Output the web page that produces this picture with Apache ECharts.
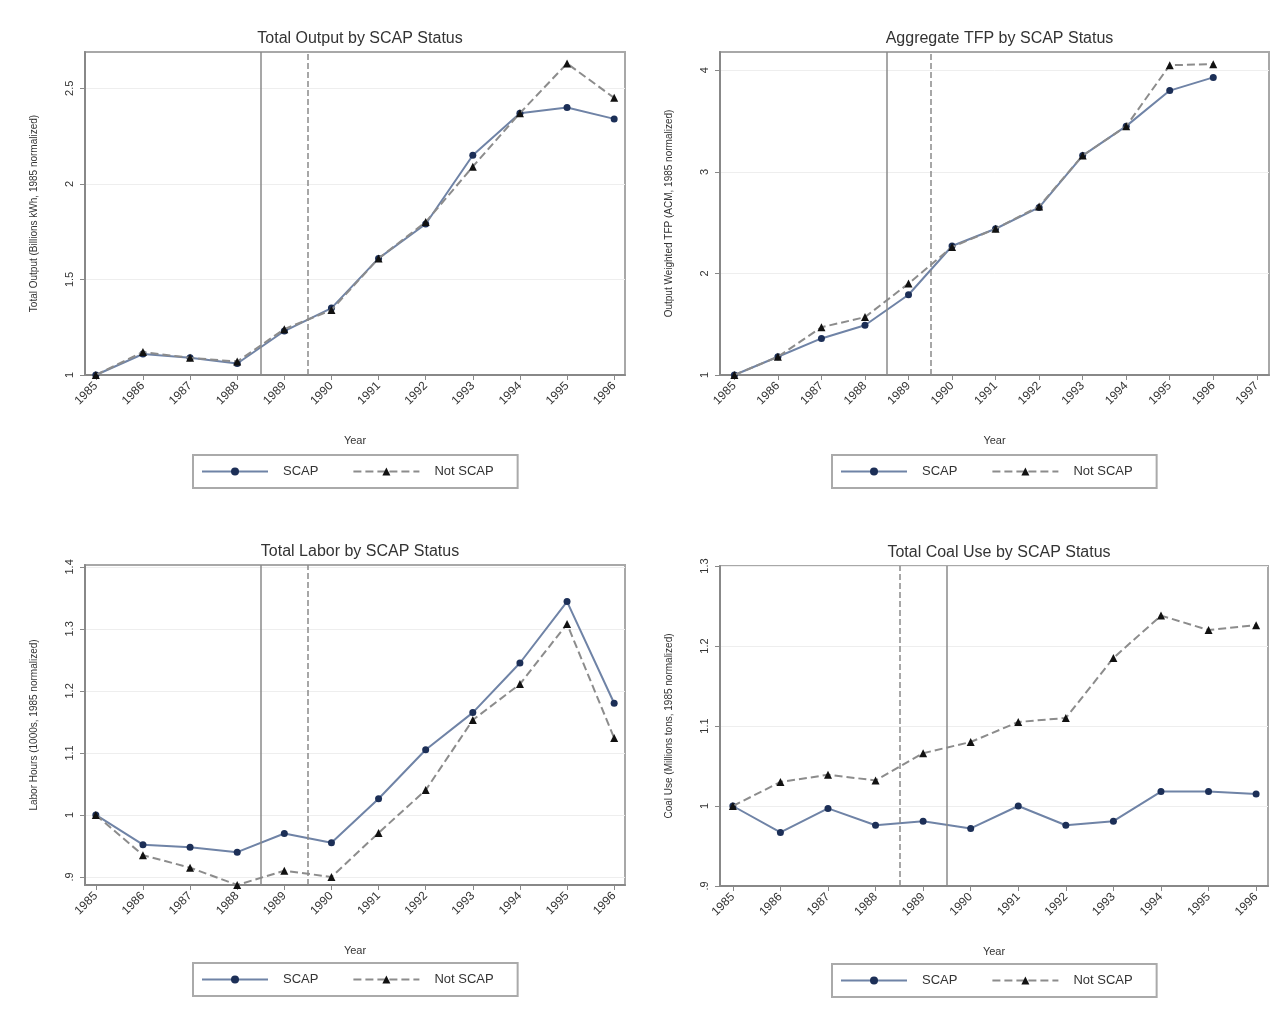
<!DOCTYPE html>
<html><head><meta charset="utf-8">
<script src="https://cdn.jsdelivr.net/npm/echarts@6/dist/echarts.min.js"></script>
<style>html,body{margin:0;padding:0;background:#fff}#c{width:1285px;height:1015px}</style>
</head><body><div id="c"></div>
<script>
// ---- data ----
const years = [1985,1986,1987,1988,1989,1990,1991,1992,1993,1994,1995,1996];
const tfpTickYears = [1985,1986,1987,1988,1989,1990,1991,1992,1993,1994,1995,1996,1997];
const eventLines = [1988.5, 1989.5];

const outputSCAP    = [1.00,1.11,1.09,1.06,1.23,1.35,1.61,1.79,2.15,2.37,2.40,2.34];
const outputNotSCAP = [1.00,1.12,1.09,1.07,1.24,1.34,1.61,1.80,2.09,2.37,2.63,2.45];
const tfpSCAP       = [1.00,1.18,1.36,1.49,1.79,2.27,2.44,2.65,3.16,3.45,3.80,3.93];
const tfpNotSCAP    = [1.00,1.18,1.47,1.57,1.90,2.26,2.44,2.66,3.16,3.45,4.05,4.06];
const laborSCAP     = [1.000,0.952,0.948,0.940,0.970,0.955,1.026,1.105,1.165,1.245,1.344,1.180];
const laborNotSCAP  = [1.000,0.935,0.915,0.887,0.910,0.900,0.971,1.040,1.153,1.211,1.308,1.124];
const coalSCAP      = [1.000,0.967,0.997,0.976,0.981,0.972,1.000,0.976,0.981,1.018,1.018,1.015];
const coalNotSCAP   = [1.000,1.030,1.039,1.032,1.066,1.080,1.105,1.110,1.185,1.238,1.220,1.226];

const outputTicks = [1,1.5,2,2.5];
const tfpTicks    = [1,2,3,4];
const laborTicks  = [0.9,1,1.1,1.2,1.3,1.4];
const coalTicks   = [0.9,1,1.1,1.2,1.3];

const titles = ['Total Output by SCAP Status','Aggregate TFP by SCAP Status','Total Labor by SCAP Status','Total Coal Use by SCAP Status'];
const yTitles = ['Total Output (Billions kWh, 1985 normalized)','Output Weighted TFP (ACM, 1985 normalized)','Labor Hours (1000s, 1985 normalized)','Coal Use (Millions tons, 1985 normalized)'];
const seriesNames = ['SCAP','Not SCAP'];

// ---- layout ----
const grids = [
  {left:85, top:52, width:540, height:323},
  {left:720, top:52, width:549, height:323},
  {left:85, top:565, width:540, height:320},
  {left:720, top:566, width:548, height:320}
];
const yRanges = [[1,2.69],[1,4.18],[0.887,1.403],[0.9,1.3]];
const yTickSets = [outputTicks, tfpTicks, laborTicks, coalTicks];
const xTickSets = [years, tfpTickYears, years, years];
const xRanges = [[1984.77,1996.23],[1984.67,1997.28],[1984.77,1996.23],[1984.73,1996.25]];
const lineTypes = [['solid','dashed'],['solid','dashed'],['solid','dashed'],['dashed','solid']];
const dataSets = [[outputSCAP,outputNotSCAP],[tfpSCAP,tfpNotSCAP],[laborSCAP,laborNotSCAP],[coalSCAP,coalNotSCAP]];

function fmt(v){ let s = (Math.round(v*100)/100).toString(); if (s.startsWith('0.')) s = s.slice(1); return s; }

const option = {
  backgroundColor:'#fff',
  animation:false,
  title: titles.map((t,i)=>({text:t, left: grids[i].left + grids[i].width/2, top: grids[i].top - 26, textAlign:'center',
    textStyle:{fontFamily:'Liberation Sans, Arial', fontSize:16, fontWeight:'normal', color:'#333'}})),
  grid: grids.map(g=>Object.assign({show:true, borderColor:'#a8a8a8', borderWidth:2, backgroundColor:'#fff'}, g)),
  legend: grids.map((g,i)=>({
    data: seriesNames, left: (i%2===0)? 193 : 832, top: g.top + g.height + 80 + (i<2?0:-2),
    orient:'horizontal', itemWidth:66, itemHeight:10, itemGap:34,
    padding:[10,24,10,8], borderColor:'#aaa', borderWidth:2, backgroundColor:'#fff',
    textStyle:{fontFamily:'Liberation Sans, Arial', fontSize:13, color:'#333', padding:[0,4,0,10]}
  })),
  xAxis: grids.map((g,i)=>({
    type:'value', gridIndex:i, min:xRanges[i][0], max:xRanges[i][1],
    name:'Year', nameLocation:'middle', nameGap:60,
    nameTextStyle:{fontFamily:'Liberation Sans, Arial', fontSize:11, color:'#333'},
    axisLine:{show:true, onZero:false, lineStyle:{color:'#888', width:2}},
    axisTick:{show:true, customValues:xTickSets[i], length:5, lineStyle:{color:'#888'}},
    axisLabel:{customValues:xTickSets[i], rotate:45, fontFamily:'Liberation Sans, Arial', fontSize:12, color:'#333', margin:9, formatter:v=>String(v)},
    splitLine:{show:false}
  })),
  yAxis: grids.map((g,i)=>({
    type:'value', gridIndex:i, min:yRanges[i][0], max:yRanges[i][1],
    name:yTitles[i], nameLocation:'middle', nameRotate:90, nameGap:46,
    nameTextStyle:{fontFamily:'Liberation Sans, Arial', fontSize:10, color:'#333'},
    axisLine:{show:true, onZero:false, lineStyle:{color:'#888', width:2}},
    axisTick:{show:true, customValues:yTickSets[i], length:5, lineStyle:{color:'#888'}},
    axisLabel:{customValues:yTickSets[i], rotate:90, fontFamily:'Liberation Sans, Arial', fontSize:11, color:'#333', margin:10, formatter:fmt},
    splitLine:{show:true, lineStyle:{color:'#eeeeee', width:1}}
  })),
  series: []
};

dataSets.forEach((pair,i)=>{
  option.series.push({
    name:'SCAP', type:'line', xAxisIndex:i, yAxisIndex:i,
    data: years.map((y,k)=>[y, pair[0][k]]),
    symbol:'circle', symbolSize:7,
    itemStyle:{color:'#1c2f57'},
    lineStyle:{color:'#6f83a6', width:2, type:'solid'},
    z:3,
    markLine:{silent:true, symbol:'none', label:{show:false},
      data: eventLines.map((x,k)=>({xAxis:x, lineStyle:{color:'#8a8a8a', width:1.5, type:lineTypes[i][k]}}))}
  });
  option.series.push({
    name:'Not SCAP', type:'line', xAxisIndex:i, yAxisIndex:i,
    data: years.map((y,k)=>[y, pair[1][k]]),
    symbol:'triangle', symbolSize:8,
    itemStyle:{color:'#111'},
    lineStyle:{color:'#8c8c8c', width:2, type:'dashed'},
    z:4
  });
});

const chart = echarts.init(document.getElementById('c'), null, {renderer:'canvas'});
chart.setOption(option);
</script>
</body></html>
